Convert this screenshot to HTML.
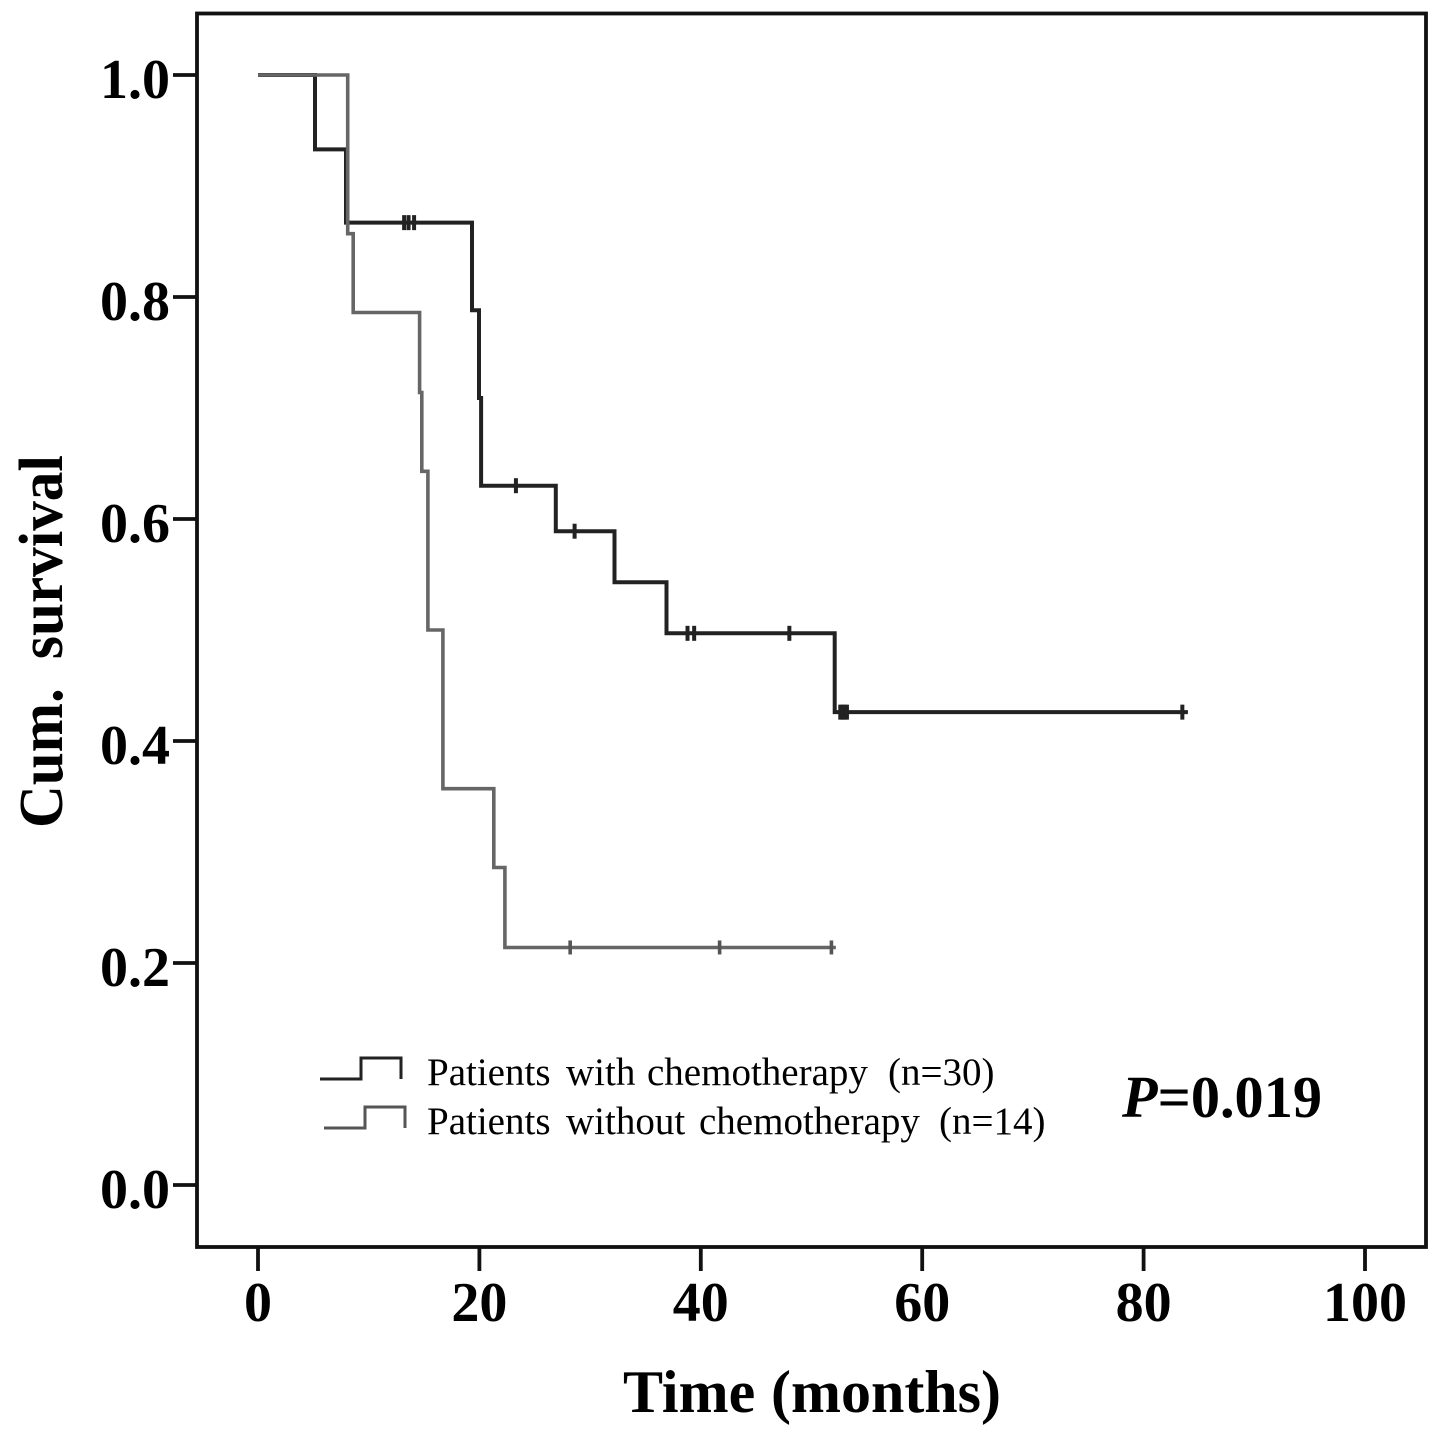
<!DOCTYPE html>
<html lang="en">
<head>
<meta charset="utf-8">
<title>Kaplan-Meier survival chart</title>
<style>
html,body{margin:0;padding:0;background:#fff;}
svg{display:block;}
text{font-family:"Liberation Serif",serif;fill:#000;}
.tick{font-weight:bold;font-size:56px;}
.title{font-weight:bold;}
.leg{font-size:39px;}
</style>
</head>
<body>
<svg id="chart" width="1441" height="1443" viewBox="0 0 1441 1443" xmlns="http://www.w3.org/2000/svg">
  <rect x="197" y="13.5" width="1229" height="1233.5" fill="none" stroke="#111" stroke-width="3.8"/>
  <g id="axes"></g>
  <g id="series"></g>
  <text class="title" font-size="60" y="1412"><tspan x="623">Time</tspan> <tspan x="771">(months)</tspan></text>
  <text class="title" font-size="62" word-spacing="15" transform="translate(62,828) rotate(-90) scale(0.955,1)">Cum. survival</text>
  <polyline points="320,1079 361,1079 361,1058 401,1058 401,1079" fill="none" stroke="#222" stroke-width="3"/>
  <polyline points="324,1128 365,1128 365,1107 405,1107 405,1128" fill="none" stroke="#555" stroke-width="3"/>
  <text class="leg" y="1085"><tspan x="427">Patients</tspan> <tspan x="566">with</tspan> <tspan x="647">chemotherapy</tspan> <tspan x="888">(n=30)</tspan></text>
  <text class="leg" y="1134"><tspan x="427">Patients</tspan> <tspan x="566">without</tspan> <tspan x="699">chemotherapy</tspan> <tspan x="939">(n=14)</tspan></text>
  <text x="1122" y="1117" font-size="59" font-weight="bold" textLength="200" lengthAdjust="spacingAndGlyphs"><tspan font-style="italic">P</tspan>=0.019</text>
</svg>
<script>
var xTicks = [0, 20, 40, 60, 80, 100];
var yTicks = ["0.0", "0.2", "0.4", "0.6", "0.8", "1.0"];

var chemoTimes = [0, 5.15, 7.95, 19.33, 19.96, 20.15, 26.9, 32.2, 36.9, 52.1, 84.0];
var chemoSurvival = [1.0, 0.933, 0.867, 0.788, 0.709, 0.63, 0.589, 0.543, 0.497, 0.426, 0.426];
var chemoCensorTimes = [13.2, 13.6, 14.1, 23.3, 28.6, 38.8, 39.4, 48.0, 52.6, 52.8, 53.0, 53.2, 83.5];
var chemoCensorSurvival = [0.867, 0.867, 0.867, 0.63, 0.589, 0.497, 0.497, 0.497, 0.426, 0.426, 0.426, 0.426, 0.426];

var noChemoTimes = [0, 8.1, 8.6, 14.6, 14.8, 15.35, 16.7, 21.3, 22.3, 52.2];
var noChemoSurvival = [1.0, 0.857, 0.786, 0.714, 0.643, 0.5, 0.357, 0.286, 0.214, 0.214];
var noChemoCensorTimes = [28.2, 41.7, 51.8];
var noChemoCensorSurvival = [0.214, 0.214, 0.214];

var NS = "http://www.w3.org/2000/svg";
function xScale(v) { return 258 + v * 11.07; }
function yScale(v) { return 1185 - v * 1110; }

var axes = document.getElementById("axes");
var seriesGroup = document.getElementById("series");

function makeLine(parent, x1, y1, x2, y2, color, width) {
  var l = document.createElementNS(NS, "line");
  l.setAttribute("x1", x1);
  l.setAttribute("y1", y1);
  l.setAttribute("x2", x2);
  l.setAttribute("y2", y2);
  l.setAttribute("stroke", color);
  l.setAttribute("stroke-width", width);
  parent.appendChild(l);
  return l;
}

xTicks.forEach(function (t) {
  var px = xScale(t);
  var mark = makeLine(axes, px, 1247, px, 1271, "#111", 3.8);
  
  
  var label = document.createElementNS(NS, "text");
  label.setAttribute("class", "tick");
  label.setAttribute("x", px);
  label.setAttribute("y", 1321);
  label.setAttribute("text-anchor", "middle");
  label.textContent = t;
  
  
  axes.appendChild(label);
});

yTicks.forEach(function (t) {
  var py = yScale(parseFloat(t));
  var mark = makeLine(axes, 173, py, 197, py, "#111", 3.8);
  
  
  var label = document.createElementNS(NS, "text");
  label.setAttribute("class", "tick");
  label.setAttribute("x", 170);
  label.setAttribute("y", py + 23);
  label.setAttribute("text-anchor", "end");
  label.textContent = t;
  
  
  axes.appendChild(label);
});

function stepPoints(times, surv) {
  var pts = [[xScale(times[0]), yScale(surv[0])]];
  for (var i = 1; i < times.length; i++) {
    pts.push([xScale(times[i]), yScale(surv[i - 1])]);
    pts.push([xScale(times[i]), yScale(surv[i])]);
  }
  return pts.map(function (p) { return p[0].toFixed(1) + "," + p[1].toFixed(1); }).join(" ");
}

var chemoLine = document.createElementNS(NS, "polyline");
chemoLine.setAttribute("points", stepPoints(chemoTimes, chemoSurvival));
chemoLine.setAttribute("fill", "none");
chemoLine.setAttribute("stroke", "#222");
chemoLine.setAttribute("stroke-width", "4");



var noChemoLine = document.createElementNS(NS, "polyline");
noChemoLine.setAttribute("points", stepPoints(noChemoTimes, noChemoSurvival));
noChemoLine.setAttribute("fill", "none");
noChemoLine.setAttribute("stroke", "#666");
noChemoLine.setAttribute("stroke-width", "3.6");



seriesGroup.appendChild(chemoLine);
seriesGroup.appendChild(noChemoLine);

chemoCensorTimes.forEach(function (t, i) {
  var px = xScale(t), py = yScale(chemoCensorSurvival[i]);
  var c = makeLine(seriesGroup, px, py - 7.5, px, py + 7.5, "#222", 4);
  
  
});

noChemoCensorTimes.forEach(function (t, i) {
  var px = xScale(t), py = yScale(noChemoCensorSurvival[i]);
  var c = makeLine(seriesGroup, px, py - 7, px, py + 7, "#555", 3.6);
  
  
});
</script>
</body>
</html>
